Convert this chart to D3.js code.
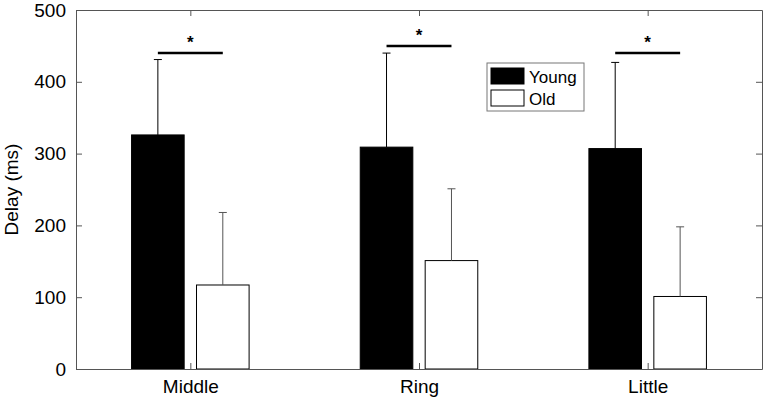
<!DOCTYPE html>
<html lang="en">
<head>
	<meta charset="utf-8">
	<title>Delay by finger</title>
	<script src="https://d3js.org/d3.v7.min.js"></script>
	<style>
		body {margin:0; background:#fff;}
		svg text {font-family:"Liberation Sans", Arial, sans-serif;}
	</style>
</head>
<body>
	<div id="chart"></div>
	<script>
		// chart values
		const categories = ["Middle", "Ring", "Little"];
		const young = [326, 309, 307];
		const youngErr = [105, 131, 120];
		const old = [117, 151, 101];
		const oldErr = [101, 100, 97];
		const sigLevel = [440, 450, 440];
		const yTicks = [0, 100, 200, 300, 400, 500];
		const legendLabels = ["Young", "Old"];

		const width = 767, height = 400;
		const margin = {top: 10, right: 5, bottom: 31, left: 76};
		const axisColor = "#555";

		const svg = d3.select("#chart").append("svg")
			.attr("width", width)
			.attr("height", height);

		// category index 1..3, domain padded by half a unit
		const x = d3.scaleLinear()
			.domain([0.5, 3.5])
			.range([margin.left, width - margin.right]);
		const y = d3.scaleLinear()
			.domain([0, 500])
			.range([height - margin.bottom, margin.top]);

		const barW = 0.23;
		const offset = 0.142;

		// bars
		function drawSeries(values, errs, dx, fill, errColor) {
			const g = svg.append("g");
			g.selectAll("rect")
				.data(values)
				.enter()
				.append("rect")
				.attr("x", function (d, i) { return x(i + 1 + dx - barW / 2); })
				.attr("y", function (d) { return y(d); })
				.attr("width", x(1 + barW) - x(1))
				.attr("height", function (d) { return y(0) - y(d); })
				.attr("fill", fill)
				.attr("stroke", "#000")
				.attr("stroke-width", 1);
			// upward error bars with a small cap
			g.selectAll("line.err")
				.data(values)
				.enter()
				.append("line")
				.attr("x1", function (d, i) { return x(i + 1 + dx); })
				.attr("x2", function (d, i) { return x(i + 1 + dx); })
				.attr("y1", function (d) { return y(d); })
				.attr("y2", function (d, i) { return y(d + errs[i]); })
				.attr("stroke", errColor)
				.attr("stroke-width", 1);
			g.selectAll("line.cap")
				.data(values)
				.enter()
				.append("line")
				.attr("x1", function (d, i) { return x(i + 1 + dx) - 4; })
				.attr("x2", function (d, i) { return x(i + 1 + dx) + 4; })
				.attr("y1", function (d, i) { return y(d + errs[i]); })
				.attr("y2", function (d, i) { return y(d + errs[i]); })
				.attr("stroke", errColor)
				.attr("stroke-width", 1);
		}
		drawSeries(young, youngErr, -offset, "#000", "#000");
		drawSeries(old, oldErr, offset, "#fff", "#555");

		// significance bars and stars
		const sig = svg.append("g");
		sig.selectAll("line")
			.data(sigLevel)
			.enter()
			.append("line")
			.attr("x1", function (d, i) { return x(i + 1 - offset); })
			.attr("x2", function (d, i) { return x(i + 1 + offset); })
			.attr("y1", function (d) { return y(d); })
			.attr("y2", function (d) { return y(d); })
			.attr("stroke", "#000")
			.attr("stroke-width", 2.5);
		sig.selectAll("text")
			.data(sigLevel)
			.enter()
			.append("text")
			.attr("x", function (d, i) { return x(i + 1); })
			.attr("y", function (d) { return y(d) - 5; })
			.attr("text-anchor", "middle")
			.style("font-size", "17px")
			.style("font-weight", "bold")
			.text("*");

		// axes box
		const yAxis = d3.axisLeft(y).tickValues(yTicks).tickSizeInner(-6).tickSizeOuter(0).tickPadding(10);
		const yAxisR = d3.axisRight(y).tickValues(yTicks).tickSizeInner(-6).tickSizeOuter(0).tickFormat("");
		const xAxis = d3.axisBottom(x).tickValues([1, 2, 3]).tickSizeInner(-6).tickSizeOuter(0).tickPadding(11)
			.tickFormat(function (d) { return categories[d - 1]; });
		const xAxisT = d3.axisTop(x).tickValues([1, 2, 3]).tickSizeInner(-6).tickSizeOuter(0).tickFormat("");

		const axes = [
			svg.append("g").attr("transform", "translate(" + margin.left + ",0)").call(yAxis),
			svg.append("g").attr("transform", "translate(" + (width - margin.right) + ",0)").call(yAxisR),
			svg.append("g").attr("transform", "translate(0," + (height - margin.bottom) + ")").call(xAxis),
			svg.append("g").attr("transform", "translate(0," + margin.top + ")").call(xAxisT)
		];
		axes.forEach(function (a) {
			a.select(".domain").attr("stroke", axisColor);
			a.selectAll(".tick line").attr("stroke", axisColor);
			a.selectAll("text").attr("fill", "#000").style("font-size", "19px")
				.style("font-family", "'Liberation Sans', Arial, sans-serif");
		});

		svg.append("text")
			.attr("transform", "translate(18," + (y(250)) + ") rotate(-90)")
			.attr("text-anchor", "middle")
			.style("font-size", "19px")
			.text("Delay (ms)");

		// legend
		const legend = svg.append("g").attr("transform", "translate(487,63)");
		legend.append("rect")
			.attr("width", 97).attr("height", 48)
			.attr("fill", "#fff").attr("stroke", "#777");
		const item = legend.selectAll("g.item")
			.data(legendLabels)
			.enter()
			.append("g")
			.attr("transform", function (d, i) { return "translate(4," + (5 + i * 22) + ")"; });
		item.append("rect")
			.attr("width", 33).attr("height", 16)
			.attr("fill", function (d, i) { return i == 0 ? "#000" : "#fff"; })
			.attr("stroke", "#000");
		item.append("text")
			.attr("x", 38).attr("y", 15)
			.style("font-size", "17px")
			.text(function (d) { return d; });
	</script>
</body>
</html>
